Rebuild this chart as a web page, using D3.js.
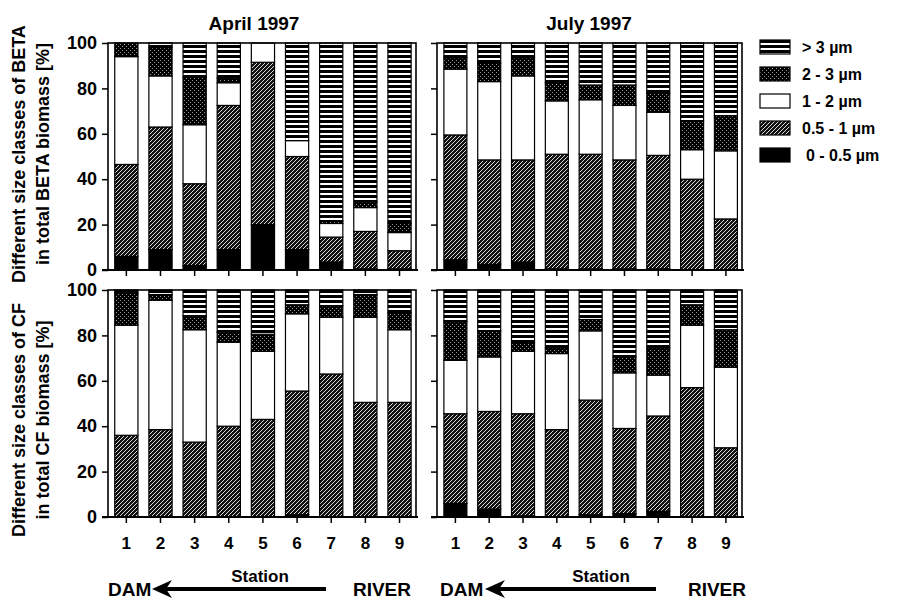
<!DOCTYPE html>
<html><head><meta charset="utf-8">
<script src="https://cdn.jsdelivr.net/npm/d3@7"></script>
<style>
body{margin:0;background:#fff}
text{font-family:"Liberation Sans",Arial,sans-serif;font-weight:bold;fill:#000}
</style>
</head><body>
<svg id="chart" width="897" height="602"></svg>
<script>
// ---------- DATA ----------
const stations = ["1","2","3","4","5","6","7","8","9"];
const sizeClasses = ["0 - 0.5 µm","0.5 - 1 µm","1 - 2 µm","2 - 3 µm","> 3 µm"];
const yTicks = [0,20,40,60,80,100];
const panelTitles = ["April 1997","July 1997"];
const yLabelsBeta = ["Different size classes of BETA","in total BETA biomass [%]"];
const yLabelsCF = ["Different size classes of CF","in total CF biomass [%]"];

// rows: 0-0.5, 0.5-1, 1-2, 2-3, >3 µm ; columns: stations 1..9 (percent)
const aprilBeta = [
  [6, 9, 2, 9, 20, 9, 3.5, 0.5, 0.5],
  [40.5, 54, 36, 63.5, 71.5, 41, 11, 16.5, 8],
  [47.5, 22.5, 26, 10, 8.5, 7, 6, 10.5, 8],
  [6, 12.5, 21, 2, 0, 0, 1, 2.5, 4],
  [0, 2, 15, 15.5, 0, 43, 78.5, 70, 79.5]
];
const julyBeta = [
  [4.5, 2.5, 3.5, 0.5, 0.5, 0.5, 0.5, 0, 0],
  [55, 46, 45, 50.5, 50.5, 48, 50, 40, 22.5],
  [29, 34.5, 37, 23.5, 24, 24, 19, 13, 30],
  [5, 8, 8, 8, 6.5, 9, 8.5, 12.5, 15.5],
  [6.5, 9, 6.5, 17.5, 18.5, 18.5, 22, 34.5, 32]
];
const aprilCF = [
  [0, 0, 0, 0, 0, 1, 0, 0, 0],
  [36, 38.5, 33, 40, 43, 54.5, 63, 50.5, 50.5],
  [48.5, 57, 49.5, 37, 30, 34, 25, 37.5, 32],
  [14, 2.5, 6, 4.5, 7.5, 4, 5, 10, 7.5],
  [1.5, 2, 11.5, 18.5, 19.5, 6.5, 7, 2, 10]
];
const julyCF = [
  [6, 3.5, 0.5, 0, 1, 1.5, 2.5, 0, 0],
  [39.5, 43, 45, 38.5, 50.5, 37.5, 42, 57, 30.5],
  [23.5, 24, 27.5, 33.5, 30.5, 24.5, 18, 27.5, 35.5],
  [17, 11.5, 4, 2.5, 5, 7, 12, 9, 16.5],
  [14, 18, 23, 25.5, 13, 29.5, 25.5, 6.5, 17.5]
];

// ---------- DRAW ----------
const svg = d3.select("#chart");
const defs = svg.append("defs");

// patterns
const pHatch = defs.append("pattern").attr("id","hatch").attr("patternUnits","userSpaceOnUse").attr("width",4).attr("height",4);
pHatch.append("rect").attr("width",4).attr("height",4).attr("fill","#111");
pHatch.append("path").attr("d","M-1,1 l2,-2 M0,4 l4,-4 M3,5 l2,-2").attr("stroke","#ddd").attr("stroke-width",1.0);

const pDots = defs.append("pattern").attr("id","dots").attr("patternUnits","userSpaceOnUse").attr("width",4).attr("height",4);
pDots.append("rect").attr("width",4).attr("height",4).attr("fill","#000");
pDots.append("rect").attr("x",0).attr("y",0).attr("width",1).attr("height",1).attr("fill","#999");
pDots.append("rect").attr("x",2).attr("y",2).attr("width",1).attr("height",1).attr("fill","#999");

const pStripe = defs.append("pattern").attr("id","stripes").attr("patternUnits","userSpaceOnUse").attr("width",4).attr("height",5);
pStripe.append("rect").attr("width",4).attr("height",5).attr("fill","#fff");
pStripe.append("rect").attr("width",4).attr("height",3).attr("fill","#000");

const fills = ["#000","url(#hatch)","#fff","url(#dots)","url(#stripes)"];

const panels = [
  {data: aprilBeta, x:[108,416], y:[270,43], labels:true, align:0.58},
  {data: julyBeta,  x:[437,742], y:[270,43], labels:false, align:0.6},
  {data: aprilCF,   x:[108,416], y:[517,290], labels:true, align:0.58, xlab:true},
  {data: julyCF,    x:[437,742], y:[517,290], labels:false, align:0.6, xlab:true}
];

panels.forEach(p => {
  const x = d3.scaleBand().domain(stations).range(p.x).paddingInner(0.32).paddingOuter(0.17).align(p.align);
  const y = d3.scaleLinear().domain([0,100]).range(p.y);
  const g = svg.append("g");

  const rows = stations.map((s,i) => {
    const o = {station:s};
    sizeClasses.forEach((c,k) => o[c] = p.data[k][i]);
    return o;
  });
  const series = d3.stack().keys(sizeClasses)(rows);

  series.forEach((ser,k) => {
    g.selectAll(null).data(ser).enter().append("rect")
      .attr("x", d => x(d.data.station))
      .attr("width", x.bandwidth())
      .attr("y", d => y(d[1]))
      .attr("height", d => Math.max(0, y(d[0]) - y(d[1])))
      .attr("fill", fills[k])
      .attr("stroke","#000").attr("stroke-width",1.2);
  });

  // frame
  g.append("rect").attr("x",p.x[0]).attr("y",p.y[1]).attr("width",p.x[1]-p.x[0]).attr("height",p.y[0]-p.y[1])
    .attr("fill","none").attr("stroke","#000").attr("stroke-width",1.6);

  // y axis
  const ya = d3.axisLeft(y).tickValues(yTicks).tickSize(6).tickPadding(5)
    .tickFormat(p.labels ? d3.format("d") : () => "");
  const yg = g.append("g").attr("transform",`translate(${p.x[0]},0)`).call(ya);
  yg.select(".domain").remove();
  yg.selectAll("line").attr("stroke","#000").attr("stroke-width",1.5);
  yg.selectAll("text").style("font-size","18px").style("font-family","'Liberation Sans',Arial,sans-serif").style("font-weight","bold");

  // x axis
  const xa = d3.axisBottom(x).tickSize(6).tickPadding(14).tickFormat(p.xlab ? (d=>d) : () => "");
  const xg = g.append("g").attr("transform",`translate(0,${p.y[0]})`).call(xa);
  xg.select(".domain").remove();
  xg.selectAll("line").attr("stroke","#000").attr("stroke-width",1.5);
  xg.selectAll("text").style("font-size","17px").style("font-family","'Liberation Sans',Arial,sans-serif").style("font-weight","bold");
  g.append("line").attr("x1",p.x[0]-6).attr("x2",p.x[1]+2).attr("y1",p.y[0]).attr("y2",p.y[0]).attr("stroke","#000").attr("stroke-width",2);
});

// titles
svg.append("text").attr("x",254).attr("y",30).attr("text-anchor","middle").style("font-size","19px").text(panelTitles[0]);
svg.append("text").attr("x",589).attr("y",30).attr("text-anchor","middle").style("font-size","19px").text(panelTitles[1]);

// y labels
function yLabel(lines, cy) {
  lines.forEach((t,i) => {
    svg.append("text").attr("transform",`translate(${25 + i*24},${cy}) rotate(-90)`)
      .attr("text-anchor","middle").style("font-size","18px").text(t);
  });
}
yLabel(yLabelsBeta, 154);
yLabel(yLabelsCF, 420);

// legend
const legendOrder = [4,3,2,1,0];
legendOrder.forEach((k,i) => {
  const yy = 47 + i*27;
  svg.append("rect").attr("x",760).attr("y",yy-7).attr("width",30).attr("height",14)
    .attr("fill",fills[k]).attr("stroke","#000").attr("stroke-width",1.2);
  svg.append("text").attr("x", k===0 ? 806 : 802).attr("y",yy).attr("dy","0.35em")
    .style("font-size","16px").text(sizeClasses[k]);
});

// bottom annotation: Station / DAM <--- RIVER
function annot(x0, x1, cx) {
  svg.append("text").attr("x",cx).attr("y",582).attr("text-anchor","middle")
    .style("font-size","17px").text("Station");
  svg.append("text").attr("x",x0).attr("y",596).style("font-size","19px").text("DAM");
  svg.append("text").attr("x",x1).attr("y",596).attr("text-anchor","end").style("font-size","19px").text("RIVER");
}
function arrow(ax0, ax1, ay) {
  svg.append("line").attr("x1",ax0+10).attr("x2",ax1).attr("y1",ay).attr("y2",ay).attr("stroke","#000").attr("stroke-width",4);
  svg.append("path").attr("d",`M${ax0},${ay} L${ax0+20},${ay-9} L${ax0+14},${ay} L${ax0+20},${ay+9} Z`).attr("fill","#000");
}
annot(108, 411, 260);
arrow(152, 326, 589);
annot(440, 746, 601);
arrow(485, 656, 589);
</script>
</body></html>
